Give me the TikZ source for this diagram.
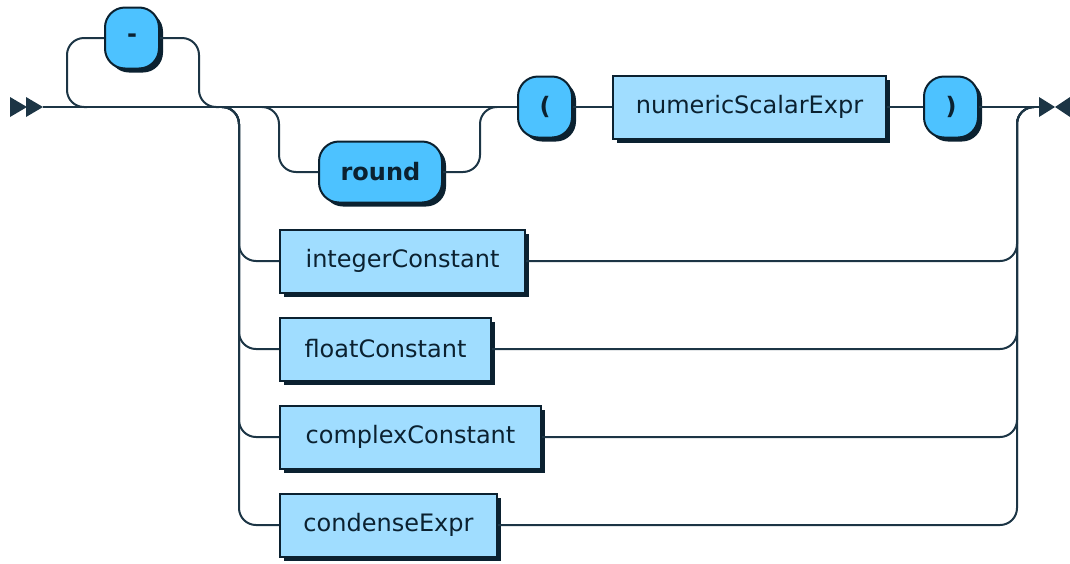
\documentclass[tikz,border=0pt]{standalone}
\usepackage{fontspec}
\setmainfont{DejaVu Sans}
\usetikzlibrary{shadows}
\definecolor{rrline}{HTML}{1C3545}
\definecolor{rrterm}{HTML}{4DC2FF}
\definecolor{rrnonterm}{HTML}{A0DDFF}
\definecolor{rrdark}{HTML}{0B2130}
\tikzset{
every picture/.style={
line width=2pt
}}

\begin{document}
\begin{tikzpicture}[x=1pt, y=-1pt,
term/.style = {rectangle, rounded corners=20pt, draw=rrdark, fill=rrterm, text=rrdark, inner sep=0pt,
  font=\bfseries\fontsize{24}{28}\selectfont, minimum height=61pt, minimum width=54pt,
  drop shadow={shadow xshift=4pt, shadow yshift=-4pt, fill=rrdark, opacity=1}},
nonterm/.style = {rectangle, draw=rrdark, fill=rrnonterm, text=rrdark, inner sep=0pt,
  font=\fontsize{24}{28}\selectfont, minimum height=63pt, anchor=west,
  drop shadow={shadow xshift=4pt, shadow yshift=-4pt, fill=rrdark, opacity=1}},
track/.style = {draw=rrline, rounded corners=17pt}]
\useasboundingbox (0,0) rectangle (1070,563);

\coordinate (start) at (43,107);
\coordinate (end) at (1039,107);
\coordinate (optl) at (67,107);
\coordinate (optr) at (199,107);
\coordinate (chl) at (239,107);
\coordinate (chr) at (1017,107);
\coordinate (rndl) at (279,107);
\coordinate (rndr) at (480,107);

\node[term] (minus) at (132,38) {-};
\node[term, minimum width=123pt] (round) at (380.5,172) {round};
\node[term] (lpar) at (545,107) {(};
\node[nonterm, minimum width=273pt] (num) at (612,107) {numericScalarExpr};
\node[term] (rpar) at (951,107) {)};
\node[nonterm, minimum width=245pt] (int) at (279,261) {integerConstant};
\node[nonterm, minimum width=211pt] (float) at (279,349) {floatConstant};
\node[nonterm, minimum width=261pt] (complex) at (279,437) {complexConstant};
\node[nonterm, minimum width=217pt] (condense) at (279,525) {condenseExpr};

\fill[rrline] (10,97) -- (27,107) -- (10,117) -- cycle;
\fill[rrline] (26,97) -- (43,107) -- (26,117) -- cycle;
\fill[rrline] (1039,97) -- (1055,107) -- (1039,117) -- cycle;
\fill[rrline] (1070,97) -- (1055,107) -- (1070,117) -- cycle;

\draw[track] (start) -- (lpar.west);
\draw[track] (lpar.east) -- (num.west);
\draw[track] (num.east) -- (rpar.west);
\draw[track] (rpar.east) -- (end);

\draw[track] (optl) ++(20,0) -- (optl) |- (minus.west);
\draw[track] (minus.east) -| (optr) -- ++(20,0);

\draw[track] (rndl) ++(-17,0) -- (rndl) |- (round.west);
\draw[track] (round.east) -| (rndr) -- ++(17,0);

\foreach \r in {int,float,complex,condense} {
  \draw[track] (chl) ++(-17,0) -- (chl) |- (\r.west);
  \draw[track] (\r.east) -| (chr) -- ++(17,0);
}
\end{tikzpicture}
\end{document}
